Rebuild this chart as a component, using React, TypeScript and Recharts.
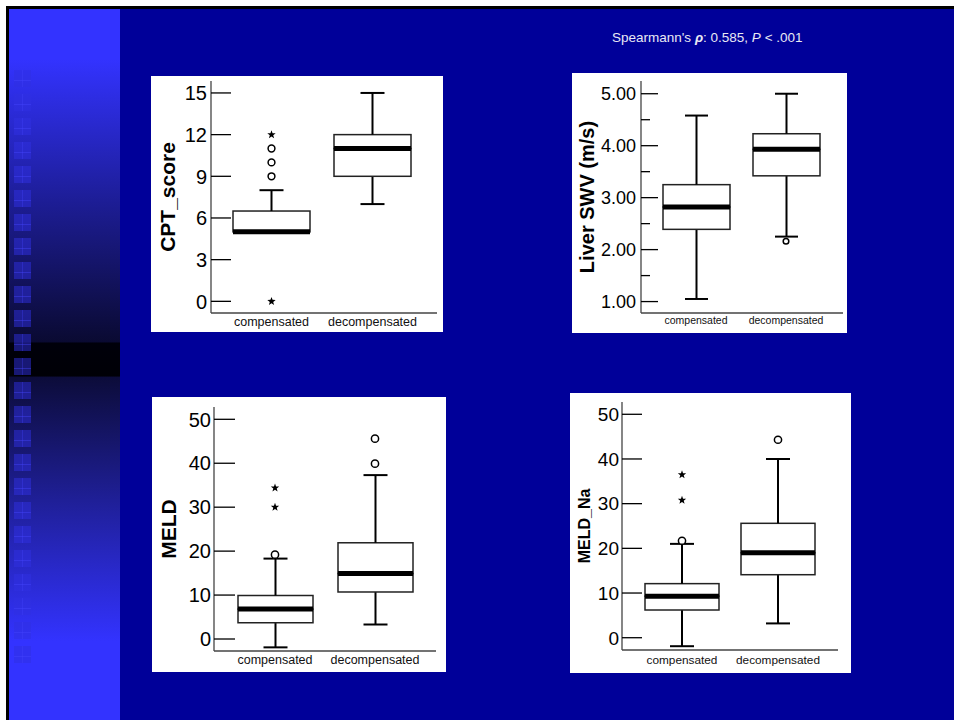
import { ComposedChart, Bar, Scatter, XAxis, YAxis } from "recharts";

const FONT = '"Liberation Sans", Arial, Helvetica, sans-serif';
const FRAME = { stroke: "#444", strokeWidth: 1.3 };

const groups = ["compensated", "decompensated"];

// CPT_score
const cptLow = [5, 7];
const cptQ1 = [5, 9];
const cptMedian = [5, 11];
const cptQ3 = [6.5, 12];
const cptHigh = [8, 15];
const cptCircles = [[9, 10, 11], []];
const cptStars = [[12, 0], []];
const cptTicks = [0, 3, 6, 9, 12, 15];

// Liver SWV (m/s)
const swvLow = [1.05, 2.25];
const swvQ1 = [2.39, 3.42];
const swvMedian = [2.82, 3.93];
const swvQ3 = [3.25, 4.23];
const swvHigh = [4.58, 5.0];
const swvCircles = [[], [2.16]];
const swvStars = [[], []];
const swvTicks = [1, 1.5, 2, 2.5, 3, 3.5, 4, 4.5, 5];

// MELD
const meldLow = [-1.9, 3.3];
const meldQ1 = [3.7, 10.7];
const meldMedian = [6.8, 14.9];
const meldQ3 = [9.9, 21.9];
const meldHigh = [18.3, 37.3];
const meldCircles = [[19.2], [39.9, 45.6]];
const meldStars = [[30.0, 34.4], []];
const meldTicks = [0, 10, 20, 30, 40, 50];

// MELD_Na
const naLow = [-1.9, 3.2];
const naQ1 = [6.2, 14.1];
const naMedian = [9.3, 19.0];
const naQ3 = [12.1, 25.6];
const naHigh = [21.0, 40.0];
const naCircles = [[21.7], [44.3]];
const naStars = [[30.8, 36.5], []];
const naTicks = [0, 10, 20, 30, 40, 50];

function buildRows(low: number[], q1: number[], median: number[], q3: number[], high: number[]) {
  return groups.map((name, i) => ({
    name,
    base: low[i],
    lowWhisker: q1[i] - low[i],
    boxLow: median[i] - q1[i],
    boxHigh: q3[i] - median[i],
    highWhisker: high[i] - q3[i],
  }));
}

function buildPoints(lists: number[][]) {
  return lists.flatMap((vals, i) => vals.map((v) => ({ name: groups[i], value: v })));
}

const edges = (p: any) => {
  const top = Math.min(p.y, p.y + p.height);
  const bottom = Math.max(p.y, p.y + p.height);
  return { top, bottom, cx: p.x + p.width / 2 };
};

const whiskerShape = (cap: number, end: "top" | "bottom") => (p: any) => {
  if (p.x == null || p.y == null || isNaN(p.y)) return <g />;
  const { top, bottom, cx } = edges(p);
  const capY = end === "top" ? top : bottom;
  return (
    <g>
      <line x1={cx} x2={cx} y1={top} y2={bottom} stroke="#000" strokeWidth={2} />
      <line x1={cx - cap / 2} x2={cx + cap / 2} y1={capY} y2={capY} stroke="#000" strokeWidth={2} />
    </g>
  );
};

const boxShape = (withMedian: boolean) => (p: any) => {
  if (p.x == null || p.y == null || isNaN(p.y)) return <g />;
  const { top, bottom } = edges(p);
  return (
    <g>
      <rect x={p.x} y={top} width={p.width} height={bottom - top} fill="#fff" stroke="#222" strokeWidth={1.5} />
      {withMedian && (
        <line x1={p.x} x2={p.x + p.width} y1={bottom} y2={bottom} stroke="#000" strokeWidth={5} />
      )}
    </g>
  );
};

const circleShape = (r: number) => (p: any) => (
  <circle cx={p.cx} cy={p.cy} r={r} fill="#fff" stroke="#000" strokeWidth={1.5} />
);

const starShape = (p: any) => {
  const pts: string[] = [];
  for (let k = 0; k < 10; k++) {
    const rad = k % 2 === 0 ? 4.4 : 1.8;
    const a = -Math.PI / 2 + (k * Math.PI) / 5;
    pts.push(`${p.cx + rad * Math.cos(a)},${p.cy + rad * Math.sin(a)}`);
  }
  return <polygon points={pts.join(" ")} fill="#000" />;
};

interface PanelProps {
  title: string;
  titleSize: number;
  titleX: number;
  rows: ReturnType<typeof buildRows>;
  circles: { name: string; value: number }[];
  stars: { name: string; value: number }[];
  left: number;
  top: number;
  width: number;
  height: number;
  marginTop: number;
  marginRight: number;
  yWidth: number;
  xHeight: number;
  domain: [number, number];
  ticks: number[];
  digits: number;
  isMajor: (v: number) => boolean;
  tickLen: number;
  minorLen: number;
  tickFont: number;
  tickGap: number;
  pad: { left: number; right: number };
  barSize: number;
  capWidth: number;
  labelFont: number;
  labelMargin: number;
  circleR: number;
}

function Panel(p: PanelProps) {
  const renderTick = (t: any) => {
    const v = Number(t.payload.value);
    const major = p.isMajor(v);
    const edge = t.x + p.tickGap;
    return (
      <g>
        <line x1={edge} x2={edge + (major ? p.tickLen : p.minorLen)} y1={t.y} y2={t.y} stroke="#000" strokeWidth={1.3} />
        {major && (
          <text x={t.x} y={t.y} dy="0.36em" textAnchor="end" fontSize={p.tickFont} fontFamily={FONT} fill="#000">
            {v.toFixed(p.digits)}
          </text>
        )}
      </g>
    );
  };

  const renderTitle = ({ viewBox }: any) => {
    const cx = p.titleX;
    const cy = viewBox.y + viewBox.height / 2;
    return (
      <text
        x={cx}
        y={cy}
        transform={`rotate(-90 ${cx} ${cy})`}
        textAnchor="middle"
        fontSize={p.titleSize}
        fontWeight="bold"
        fontFamily={FONT}
        fill="#000"
      >
        {p.title}
      </text>
    );
  };

  return (
    <div style={{ position: "absolute", left: p.left, top: p.top, width: p.width, height: p.height, background: "#fff" }}>
      <ComposedChart
        width={p.width}
        height={p.height}
        data={p.rows}
        stackOffset="none"
        margin={{ top: p.marginTop, right: p.marginRight, bottom: 0, left: 0 }}
      >
        <XAxis
          dataKey="name"
          type="category"
          allowDuplicatedCategory={false}
          padding={p.pad}
          height={p.xHeight}
          axisLine={FRAME}
          tickLine={false}
          tickSize={0}
          tickMargin={p.labelMargin}
          tick={{ fontSize: p.labelFont, fill: "#111", fontFamily: FONT }}
        />
        <XAxis
          xAxisId="frameTop"
          orientation="top"
          dataKey="name"
          type="category"
          allowDuplicatedCategory={false}
          height={0}
          tick={false}
          tickLine={false}
          axisLine={FRAME}
        />
        <YAxis
          type="number"
          domain={p.domain}
          allowDataOverflow
          ticks={p.ticks}
          interval={0}
          width={p.yWidth}
          axisLine={FRAME}
          tickLine={false}
          tickSize={0}
          tickMargin={p.tickGap}
          tick={renderTick}
          label={{ content: renderTitle }}
        />
        <YAxis
          yAxisId="frameRight"
          orientation="right"
          type="number"
          domain={p.domain}
          width={0}
          tick={false}
          tickLine={false}
          axisLine={FRAME}
        />
        <Bar dataKey="base" stackId="box" barSize={p.barSize} shape={() => <g />} isAnimationActive={false} />
        <Bar dataKey="lowWhisker" stackId="box" barSize={p.barSize} shape={whiskerShape(p.capWidth, "bottom")} isAnimationActive={false} />
        <Bar dataKey="boxLow" stackId="box" barSize={p.barSize} shape={boxShape(false)} isAnimationActive={false} />
        <Bar dataKey="boxHigh" stackId="box" barSize={p.barSize} shape={boxShape(true)} isAnimationActive={false} />
        <Bar dataKey="highWhisker" stackId="box" barSize={p.barSize} shape={whiskerShape(p.capWidth, "top")} isAnimationActive={false} />
        <Scatter data={p.circles} dataKey="value" shape={circleShape(p.circleR)} isAnimationActive={false} />
        <Scatter data={p.stars} dataKey="value" shape={starShape} isAnimationActive={false} />
      </ComposedChart>
    </div>
  );
}

const squareRows = Array.from({ length: 25 }, (_, k) => 334 + 24 * (k - 11));

export default function App() {
  return (
    <div style={{ position: "fixed", left: 0, top: 0, width: 954, height: 720, background: "#fff", overflow: "hidden" }}>
      <div style={{ position: "absolute", left: 6, top: 6, width: 948, height: 714, background: "#000" }} />
      <div
        style={{
          position: "absolute",
          left: 9,
          top: 9,
          width: 111,
          height: 711,
          background:
            "linear-gradient(to bottom, #3333ff 0%, #3333ff 7%, #1d1d96 27%, #0a0a32 46.8%, #00000a 47%, #000006 51.6%, #0c0c3a 51.8%, #20209c 70%, #3333ff 89%, #3333ff 100%)",
        }}
      />
      {squareRows.map((y) => (
        <div key={y} style={{ position: "absolute", left: 14, top: y, width: 17, height: 17, background: "rgba(48,48,225,0.5)" }}>
          <div style={{ position: "absolute", left: 8, top: 0, width: 1, height: 17, background: "rgba(70,70,255,0.3)" }} />
          <div style={{ position: "absolute", left: 0, top: 10, width: 17, height: 1, background: "rgba(70,70,255,0.4)" }} />
        </div>
      ))}
      <div style={{ position: "absolute", left: 120, top: 9, width: 834, height: 711, background: "#000099" }} />

      <div
        style={{
          position: "absolute",
          left: 612,
          top: 31,
          fontFamily: FONT,
          fontSize: 13.5,
          lineHeight: "13px",
          color: "#e8e8f4",
          whiteSpace: "pre",
        }}
      >
        {"Spearmann's "}
        <span style={{ fontWeight: "bold", fontStyle: "italic" }}>ρ</span>
        {": 0.585, "}
        <span style={{ fontStyle: "italic" }}>P</span>
        {" < .001"}
      </div>

      <Panel
        title="CPT_score"
        titleSize={21}
        titleX={24}
        rows={buildRows(cptLow, cptQ1, cptMedian, cptQ3, cptHigh)}
        circles={buildPoints(cptCircles)}
        stars={buildPoints(cptStars)}
        left={151}
        top={76}
        width={292}
        height={256}
        marginTop={5}
        marginRight={6}
        yWidth={60}
        xHeight={19}
        domain={[-0.84, 15.86]}
        ticks={cptTicks}
        digits={0}
        isMajor={() => true}
        tickLen={20}
        minorLen={10}
        tickFont={20}
        tickGap={4}
        pad={{ left: 10, right: 14 }}
        barSize={77}
        capWidth={24}
        labelFont={12.5}
        labelMargin={4}
        circleR={3.4}
      />

      <Panel
        title="Liver SWV (m/s)"
        titleSize={20}
        titleX={22}
        rows={buildRows(swvLow, swvQ1, swvMedian, swvQ3, swvHigh)}
        circles={buildPoints(swvCircles)}
        stars={buildPoints(swvStars)}
        left={572}
        top={73}
        width={275}
        height={260}
        marginTop={8}
        marginRight={4}
        yWidth={69}
        xHeight={20}
        domain={[0.78, 5.245]}
        ticks={swvTicks}
        digits={2}
        isMajor={(v) => Number.isInteger(v)}
        tickLen={17}
        minorLen={9}
        tickFont={18}
        tickGap={5}
        pad={{ left: 10, right: 12 }}
        barSize={67}
        capWidth={23}
        labelFont={10.5}
        labelMargin={3.5}
        circleR={2.8}
      />

      <Panel
        title="MELD"
        titleSize={21}
        titleX={24}
        rows={buildRows(meldLow, meldQ1, meldMedian, meldQ3, meldHigh)}
        circles={buildPoints(meldCircles)}
        stars={buildPoints(meldStars)}
        left={152}
        top={397}
        width={294}
        height={275}
        marginTop={10}
        marginRight={10}
        yWidth={62}
        xHeight={21}
        domain={[-2.73, 52.8]}
        ticks={meldTicks}
        digits={0}
        isMajor={() => true}
        tickLen={21}
        minorLen={10}
        tickFont={20}
        tickGap={3}
        pad={{ left: 11, right: 11 }}
        barSize={75}
        capWidth={24}
        labelFont={12.5}
        labelMargin={4.4}
        circleR={3.6}
      />

      <Panel
        title="MELD_Na"
        titleSize={16}
        titleX={20}
        rows={buildRows(naLow, naQ1, naMedian, naQ3, naHigh)}
        circles={buildPoints(naCircles)}
        stars={buildPoints(naStars)}
        left={570}
        top={393}
        width={281}
        height={280}
        marginTop={9}
        marginRight={13}
        yWidth={52}
        xHeight={23}
        domain={[-2.75, 52.75]}
        ticks={naTicks}
        digits={0}
        isMajor={() => true}
        tickLen={20}
        minorLen={10}
        tickFont={19}
        tickGap={3}
        pad={{ left: 12, right: 12 }}
        barSize={74}
        capWidth={24}
        labelFont={11.8}
        labelMargin={6}
        circleR={3.6}
      />
    </div>
  );
}
